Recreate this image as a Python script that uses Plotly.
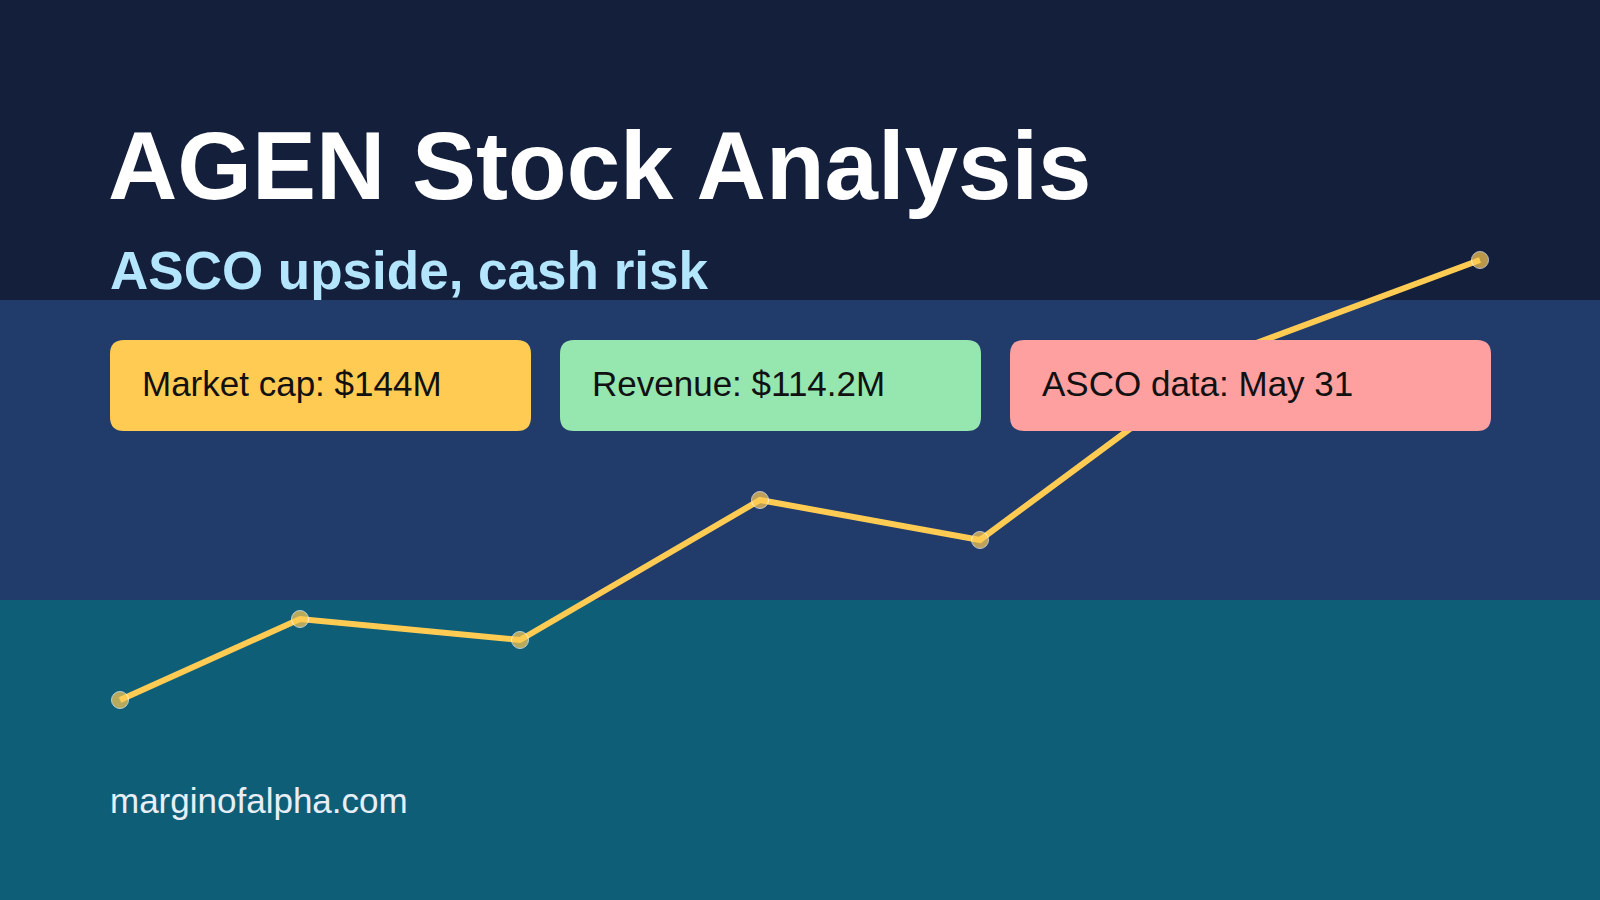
import plotly.graph_objects as go

# line points (x position along the card, index level)
point_x = [120, 300, 520, 760, 980, 1235, 1480]
point_y = [200, 281, 260, 400, 360, 549, 640]
marker_sizes = [17, 17, 17, 17, 17, 0, 17]

title = "AGEN Stock Analysis"
subtitle = "ASCO upside, cash risk"
cards = ["Market cap: $144M", "Revenue: $114.2M", "ASCO data: May 31"]
card_colors = ["#FFCB52", "#96E6B0", "#FFA0A0"]
footer = "marginofalpha.com"

W, H = 1600, 900


def rounded(x0, y0, x1, y1, r):
    return (f"M{x0+r},{y0} L{x1-r},{y0} Q{x1},{y0} {x1},{y0+r} L{x1},{y1-r} "
            f"Q{x1},{y1} {x1-r},{y1} L{x0+r},{y1} Q{x0},{y1} {x0},{y1-r} "
            f"L{x0},{y0+r} Q{x0},{y0} {x0+r},{y0} Z")


fig = go.Figure()
fig.add_trace(go.Scatter(x=point_x, y=point_y, mode="lines+markers",
                         line=dict(color="#FFCB52", width=6),
                         marker=dict(size=marker_sizes, color="#FFCB52"),
                         hoverinfo="skip"))

shapes = []
bands = [("#141F3B", 0, 300), ("#213C6B", 300, 600), ("#0F5E78", 600, 900)]
for c, a, b in bands:
    shapes.append(dict(type="rect", xref="x", yref="y", x0=0, x1=W, y0=H - b, y1=H - a,
                       fillcolor=c, line_width=0, layer="below"))

card_x = [(110, 531), (560, 981), (1010, 1491)]
annotations = [
    dict(text=f"<b>{title}</b>", x=106, y=H - 165, xanchor="left", yanchor="middle",
         font=dict(size=96, color="white", family="Arial"), showarrow=False, xref="x", yref="y"),
    dict(text=f"<b>{subtitle}</b>", x=108, y=H - 270, xanchor="left", yanchor="middle",
         font=dict(size=53, color="#B3E5FC", family="Arial"), showarrow=False, xref="x", yref="y"),
    dict(text=footer, x=108, y=H - 800, xanchor="left", yanchor="middle",
         font=dict(size=35, color="#E8EEF5", family="Arial"), showarrow=False, xref="x", yref="y"),
]
for (a, b), txt, col in zip(card_x, cards, card_colors):
    shapes.append(dict(type="path", xref="x", yref="y",
                       path=rounded(a, H - 431, b, H - 340, 14),
                       fillcolor=col, line_width=0, layer="above"))
    annotations.append(dict(text=txt, x=a + 30, y=H - 383, xanchor="left", yanchor="middle",
                            font=dict(size=35, color="#111111", family="Arial"),
                            showarrow=False, xref="x", yref="y"))

fig.update_layout(
    width=W, height=H, margin=dict(l=0, r=0, t=0, b=0),
    paper_bgcolor="#141F3B", plot_bgcolor="#141F3B", showlegend=False,
    xaxis=dict(range=[0, W], visible=False, fixedrange=True),
    yaxis=dict(range=[0, H], visible=False, fixedrange=True),
    shapes=shapes, annotations=annotations,
)
fig.write_html("out.html", config={"displayModeBar": False},
               post_script="document.body.style.margin='0';document.body.style.overflow='hidden';")
